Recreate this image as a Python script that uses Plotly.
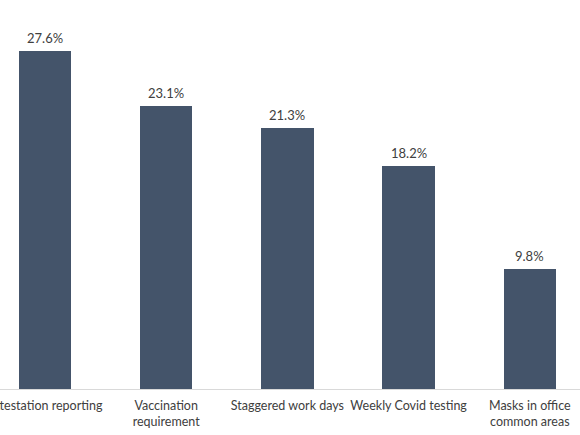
import plotly.graph_objects as go

categories = ["Attestation reporting", "Vaccination<br>requirement", "Staggered work days",
              "Weekly Covid testing", "Masks in office<br>common areas"]
values = [27.6, 23.1, 21.3, 18.2, 9.8]
value_labels = ["27.6%", "23.1%", "21.3%", "18.2%", "9.8%"]

BAR = "#44546A"
TXT = "#404040"
FONT = "Lato"

fig = go.Figure()
fig.add_trace(go.Bar(x=list(range(len(categories))), y=values, marker_color=BAR,
                     marker_line_width=0, width=0.432, hoverinfo="skip"))

for i, (v, t) in enumerate(zip(values, value_labels)):
    fig.add_annotation(x=i, y=v, text=t, showarrow=False, yanchor="bottom",
                       yshift=3, font=dict(family=FONT, size=13, color=TXT))

fig.update_layout(
    template="none",
    width=580, height=435,
    margin=dict(l=0, r=0, t=0, b=46),
    paper_bgcolor="white", plot_bgcolor="white",
    showlegend=False,
    bargap=0,
)
fig.update_xaxes(range=[-0.371, 4.414], tickmode="array",
                 tickvals=list(range(len(categories))), ticktext=categories,
                 showgrid=False, zeroline=False, showline=True, linecolor="#D9D9D9",
                 linewidth=1, ticks="", automargin=False, ticklabeloverflow="allow",
                 ticklabelstandoff=5,
                 tickfont=dict(family=FONT, size=12.5, color=TXT))
fig.update_yaxes(range=[0, 31.78], showgrid=False, zeroline=False, showline=False,
                 showticklabels=False, ticks="", automargin=False)

fig.write_html("out.html", config={"displayModeBar": False},
               post_script="document.body.style.margin='0';")
